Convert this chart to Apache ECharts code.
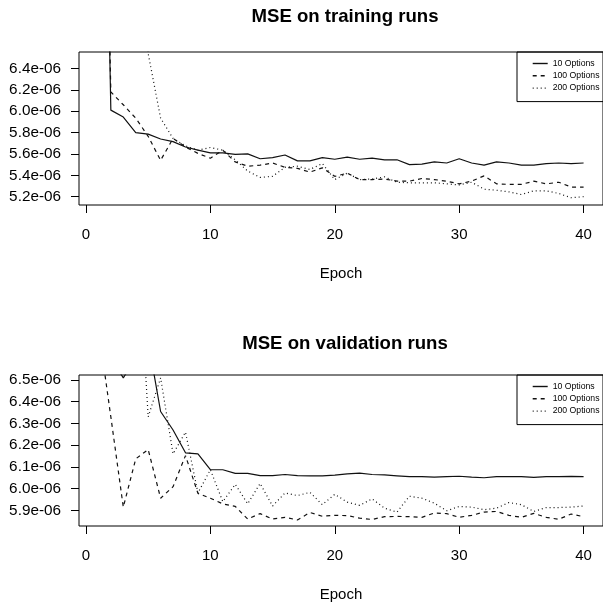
<!DOCTYPE html>
<html>
<head>
<meta charset="utf-8">
<script src="https://cdn.jsdelivr.net/npm/echarts@6/dist/echarts.min.js"></script>
<style>
html,body{margin:0;padding:0;background:#fff;}
#chart{width:603px;height:603px;}
</style>
</head>
<body>
<div id="chart"></div>
<script>
// Epochs (x values)
const epochs = [1,2,3,4,5,6,7,8,9,10,11,12,13,14,15,16,17,18,19,20,21,22,23,24,25,26,27,28,29,30,31,32,33,34,35,36,37,38,39,40];
const seriesNames = ['10 Options', '100 Options', '200 Options'];

// MSE on training runs (units of 1e-06)
const train10 = [12.0,6.01,5.945,5.80,5.785,5.74,5.715,5.665,5.635,5.61,5.61,5.595,5.60,5.555,5.565,5.59,5.535,5.535,5.565,5.55,5.57,5.55,5.56,5.545,5.545,5.50,5.505,5.525,5.515,5.555,5.515,5.495,5.525,5.515,5.495,5.495,5.51,5.515,5.51,5.515];
const train100 = [11.5,6.18,6.06,5.935,5.765,5.54,5.745,5.665,5.605,5.56,5.635,5.525,5.485,5.495,5.515,5.475,5.465,5.43,5.47,5.39,5.42,5.36,5.36,5.365,5.345,5.345,5.37,5.36,5.345,5.32,5.345,5.395,5.32,5.315,5.315,5.345,5.32,5.335,5.29,5.29];
const train200 = [12.5,11.5,10.5,9.0,6.54,5.935,5.745,5.675,5.635,5.66,5.635,5.545,5.44,5.38,5.39,5.475,5.485,5.455,5.51,5.36,5.42,5.36,5.365,5.385,5.335,5.33,5.33,5.33,5.32,5.31,5.335,5.27,5.26,5.245,5.22,5.255,5.255,5.23,5.19,5.20];

// MSE on validation runs (units of 1e-06)
const valid10 = [6.9,6.6,6.51,6.6,6.68,6.355,6.27,6.165,6.16,6.087,6.087,6.07,6.07,6.06,6.06,6.065,6.06,6.059,6.059,6.062,6.068,6.071,6.065,6.063,6.059,6.055,6.055,6.053,6.055,6.057,6.053,6.05,6.055,6.055,6.055,6.052,6.055,6.055,6.056,6.055];
const valid100 = [6.74,6.33,5.915,6.137,6.18,5.956,6.009,6.152,5.978,5.956,5.93,5.918,5.86,5.885,5.86,5.868,5.856,5.89,5.873,5.877,5.876,5.864,5.858,5.871,5.872,5.871,5.868,5.888,5.885,5.868,5.877,5.892,5.895,5.877,5.868,5.886,5.868,5.859,5.883,5.871];
const valid200 = [8.0,7.8,7.6,7.31,6.33,6.51,6.16,6.26,5.98,6.087,5.94,6.02,5.93,6.024,5.92,5.98,5.968,5.983,5.926,5.974,5.938,5.923,5.953,5.91,5.892,5.965,5.956,5.933,5.898,5.918,5.915,5.903,5.91,5.936,5.926,5.895,5.913,5.913,5.915,5.92];

// Tick labels
const xTicks = [0, 10, 20, 30, 40];
const yTicksTrain = [5.2, 5.4, 5.6, 5.8, 6.0, 6.2, 6.4];
const yTicksValid = [5.9, 6.0, 6.1, 6.2, 6.3, 6.4, 6.5];
const titles = ['MSE on training runs', 'MSE on validation runs'];
const xName = 'Epoch';

const FONT = "'Liberation Sans', Arial, sans-serif";
const LINE_TYPES = ['solid', [4, 4], [1, 3]];

function pairs(vals) { return epochs.map((e, i) => [e, vals[i]]); }

function xAxisFor(idx) {
  return {
    type: 'value', gridIndex: idx, min: -0.56, max: 41.56,
    axisLine: { show: false, onZero: false },
    splitLine: { show: false },
    axisTick: { show: true, length: 8, customValues: xTicks, lineStyle: { color: '#000', width: 1 } },
    axisLabel: { customValues: xTicks, margin: 22, fontSize: 15, color: '#000', fontFamily: FONT },
    name: xName, nameLocation: 'middle', nameGap: 61,
    nameTextStyle: { fontSize: 15, color: '#000', fontFamily: FONT }
  };
}
function yAxisFor(idx, mn, mx, ticks) {
  return {
    type: 'value', gridIndex: idx, min: mn, max: mx,
    axisLine: { show: false, onZero: false },
    splitLine: { show: false },
    axisTick: { show: true, length: 8, customValues: ticks, lineStyle: { color: '#000', width: 1 } },
    axisLabel: { customValues: ticks, margin: 18, fontSize: 15.3, color: '#000', fontFamily: FONT,
      formatter: v => v.toFixed(1) + 'e-06' }
  };
}
function lineSeries(name, idx, vals, k) {
  return {
    name: name, type: 'line', xAxisIndex: idx, yAxisIndex: idx,
    data: pairs(vals), symbol: 'none', showSymbol: false, clip: true, animation: false,
    lineStyle: { color: '#111', width: 1.2, type: LINE_TYPES[k] },
    itemStyle: { color: 'rgba(0,0,0,0)', borderWidth: 0 }
  };
}
function legendFor(top) {
  return {
    data: seriesNames, orient: 'vertical', left: 517, top: top,
    padding: [7, 10, 9, 15], itemGap: 3.3, itemWidth: 15, itemHeight: 9.5,
    borderColor: '#000', borderWidth: 1, borderRadius: 0,
    itemStyle: { color: 'rgba(0,0,0,0)', borderWidth: 0 },
    lineStyle: { color: '#111', width: 1.4 },
    textStyle: { fontSize: 8.7, color: '#000', fontFamily: FONT },
    selectedMode: false
  };
}

const chart = echarts.init(document.getElementById('chart'), null, { renderer: 'canvas' });
chart.setOption({
  animation: false,
  backgroundColor: '#fff',
  title: [
    { text: titles[0], left: 340, top: 2, textAlign: 'center',
      textStyle: { fontSize: 18.6, fontWeight: 'bold', color: '#000', fontFamily: FONT } },
    { text: titles[1], left: 340, top: 329, textAlign: 'center',
      textStyle: { fontSize: 18.6, fontWeight: 'bold', color: '#000', fontFamily: FONT } }
  ],
  grid: [
    { left: 79, top: 52, height: 153, right: -7, show: true, borderColor: '#000', borderWidth: 1, backgroundColor: 'transparent' },
    { left: 79, top: 375, height: 153, right: -7, show: true, borderColor: '#000', borderWidth: 1, backgroundColor: 'transparent' }
  ],
  xAxis: [xAxisFor(0), xAxisFor(1)],
  yAxis: [yAxisFor(0, 5.122, 6.554, yTicksTrain), yAxisFor(1, 5.828, 6.523, yTicksValid)],
  legend: [legendFor(52), legendFor(375)],
  series: [
    lineSeries(seriesNames[0], 0, train10, 0),
    lineSeries(seriesNames[1], 0, train100, 1),
    lineSeries(seriesNames[2], 0, train200, 2),
    lineSeries(seriesNames[0], 1, valid10, 0),
    lineSeries(seriesNames[1], 1, valid100, 1),
    lineSeries(seriesNames[2], 1, valid200, 2)
  ]
});
</script>
</body>
</html>
